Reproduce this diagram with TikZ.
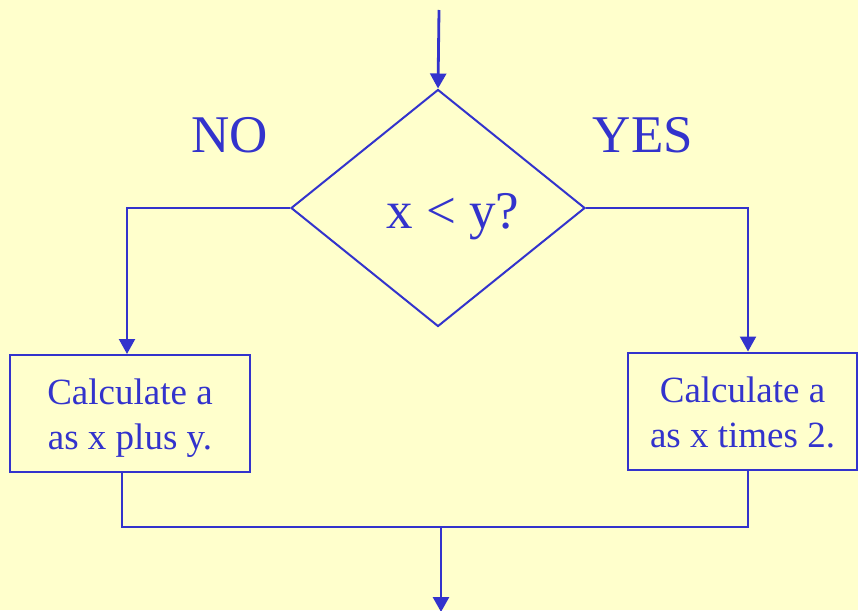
\documentclass[tikz,border=0pt]{standalone}
\usepackage{fontspec}
\setmainfont{Liberation Serif}
\usetikzlibrary{arrows.meta,positioning,shapes.geometric}
\definecolor{Paper}{HTML}{FFFFCC}
\definecolor{Ink}{HTML}{3333CC}

\begin{document}
\begin{tikzpicture}[x=1pt,y=-1pt,line width=2.2pt,
  ink/.style={draw=Ink},
  flow/.style={draw=Ink,-{Triangle[length=15pt,width=16pt]}},
  procbox/.style={draw=Ink,line width=2pt,text=Ink,align=center,inner sep=0pt,minimum height=117pt,font=\fontsize{37}{45}\selectfont},
  bigtxt/.style={text=Ink,anchor=base,inner sep=0pt,font=\fontsize{53}{60}\selectfont}]
\fill[Paper](0,0)rectangle(858,610);
\useasboundingbox(0,0)rectangle(858,610);
% decision
\node[diamond,draw=Ink,line width=2pt,inner sep=0pt,minimum width=294pt,minimum height=237pt](dec)at(438,208){};
\node[bigtxt](cond)at(453,228){x < y?};
\node[bigtxt](no)at(230,152){NO};
\node[bigtxt](yes)at(643,152){YES};
% the two sums
\node[procbox,minimum width=240pt,text height=80pt,text depth=8pt](calcplus)at(130,413.5){Calculate a\\as x plus y.};
\node[procbox,minimum width=229pt,text height=73pt,text depth=0pt](calctimes)at(742.5,411){Calculate a\\as x times 2.};
\coordinate(entry)at(439,10);
\coordinate(join)at(441,527);
\coordinate(exit)at(441,612);
\draw[flow,line width=2.8pt](entry)--(dec.north);
\draw[flow](dec.west)-|([xshift=-3pt]calcplus.north);
\draw[flow](dec.east)-|([xshift=5.5pt]calctimes.north);
\draw[ink]([xshift=-8pt]calcplus.south)|-(join)-|([xshift=5.5pt]calctimes.south);
\draw[flow,line width=2.8pt](join)--(exit);
\end{tikzpicture}
\end{document}
